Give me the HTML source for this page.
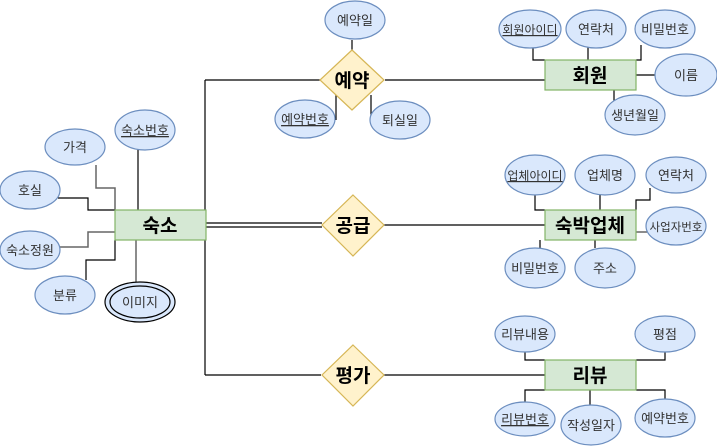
<!DOCTYPE html>
<html><head><meta charset="utf-8"><style>html,body{margin:0;padding:0;background:#fff}svg{display:block}</style></head><body>
<svg width="717" height="447" viewBox="0 0 717 447" xmlns="http://www.w3.org/2000/svg" font-family="'Liberation Sans','Noto Sans CJK KR',sans-serif">
<g fill="none" stroke="#000" stroke-width="1.2">
<path d="M205 80V375"/>
<path d="M205 80H320M385 80H545"/>
<path d="M206 223H322M206 227H322M384 225H545"/>
<path d="M205 375H321M384 375H545"/>
<path d="M96 165V188H115V210" stroke="#666" stroke-width="1.5"/>
<path d="M138 148V210"/>
<path d="M58 198H88V210H115"/>
<path d="M60 247H88V232H115" stroke="#666" stroke-width="1.5"/>
<path d="M86 280V260H115V240"/>
<path d="M136 240V282" stroke="#666" stroke-width="1.5"/>
<path d="M352 40V50M336 95V120M371 95V120"/>
<path d="M533 47V60H545M588 47V60M641 45V60H636M636 75H655M614 90V101"/>
<path d="M535 195V210H545M600 195V210M650 188V200H636V210M540 240V248M595 240V248"/>
<path d="M636 232H647" stroke="#666" stroke-width="1.5"/>
<path d="M525 352V360H545M665 352V360H636M525 403V390H545M590 390V407M665 400V390H636"/>
</g>
<g fill="#fff2cc" stroke="#d6b656" stroke-width="1.2">
<path d="M352 50L384 80L352 110L320 80Z"/>
<path d="M353 195L384 225L353 256L322 225Z"/>
<path d="M353 345L384 375L353 406L322 375Z"/>
</g>
<g fill="#d5e8d4" stroke="#82b366" stroke-width="1.2">
<rect x="115" y="210" width="91" height="30"/>
<rect x="545" y="60" width="91" height="30"/>
<rect x="545" y="210" width="91" height="30"/>
<rect x="545" y="360" width="91" height="30"/>
</g>
<g fill="#dae8fc" stroke="#6c8ebf" stroke-width="1.2">
<ellipse cx="75" cy="147" rx="30" ry="18"/>
<ellipse cx="145" cy="130" rx="30" ry="20"/>
<ellipse cx="30" cy="190" rx="30" ry="19"/>
<ellipse cx="30" cy="250" rx="30" ry="19"/>
<ellipse cx="65" cy="295" rx="30" ry="19"/>
<ellipse cx="140" cy="302" rx="35" ry="20" stroke="#000"/>
<ellipse cx="140" cy="302" rx="30" ry="16" stroke="#000"/>
<ellipse cx="355" cy="20" rx="30" ry="19"/>
<ellipse cx="305" cy="119" rx="30" ry="19"/>
<ellipse cx="400" cy="120" rx="30" ry="19"/>
<ellipse cx="530" cy="29" rx="31" ry="19"/>
<ellipse cx="596" cy="29" rx="30" ry="19"/>
<ellipse cx="665" cy="29" rx="30" ry="19"/>
<ellipse cx="686" cy="75" rx="31" ry="21"/>
<ellipse cx="635" cy="115" rx="30" ry="20"/>
<ellipse cx="535" cy="175" rx="30" ry="20"/>
<ellipse cx="605" cy="175" rx="30" ry="20"/>
<ellipse cx="676" cy="175" rx="30" ry="18"/>
<ellipse cx="676" cy="226" rx="30" ry="19"/>
<ellipse cx="535" cy="268" rx="30" ry="20"/>
<ellipse cx="605" cy="268" rx="30" ry="20"/>
<ellipse cx="525" cy="334" rx="30" ry="18"/>
<ellipse cx="665" cy="334" rx="30" ry="18"/>
<ellipse cx="525" cy="419" rx="30" ry="17"/>
<ellipse cx="591" cy="425" rx="30" ry="20"/>
<ellipse cx="665" cy="418" rx="30" ry="19"/>
</g>
<g font-size="19" font-weight="bold" text-anchor="middle" fill="#000">
<text x="160" y="232">숙소</text>
<text x="590" y="82">회원</text>
<text x="590" y="232">숙박업체</text>
<text x="590" y="382">리뷰</text>
<text x="352" y="87">예약</text>
<text x="353" y="232">공급</text>
<text x="353" y="382">평가</text>
</g>
<g font-size="13" text-anchor="middle" fill="#333">
<text x="75" y="152">가격</text>
<text x="145" y="135" text-decoration="underline">숙소번호</text>
<text x="30" y="195">호실</text>
<text x="30" y="255">숙소정원</text>
<text x="65" y="300">분류</text>
<text x="140" y="307">이미지</text>
<text x="355" y="25">예약일</text>
<text x="305" y="124" text-decoration="underline">예약번호</text>
<text x="400" y="125">퇴실일</text>
<text x="530" y="34" font-size="12" text-decoration="underline">회원아이디</text>
<text x="596" y="34">연락처</text>
<text x="665" y="34">비밀번호</text>
<text x="686" y="80">이름</text>
<text x="635" y="120">생년월일</text>
<text x="535" y="180" font-size="12" text-decoration="underline">업체아이디</text>
<text x="605" y="180">업체명</text>
<text x="676" y="180">연락처</text>
<text x="676" y="231" font-size="11.5">사업자번호</text>
<text x="535" y="273">비밀번호</text>
<text x="605" y="273">주소</text>
<text x="525" y="339">리뷰내용</text>
<text x="665" y="339">평점</text>
<text x="525" y="424" text-decoration="underline">리뷰번호</text>
<text x="591" y="430">작성일자</text>
<text x="665" y="423">예약번호</text>
</g>
</svg>
</body></html>
